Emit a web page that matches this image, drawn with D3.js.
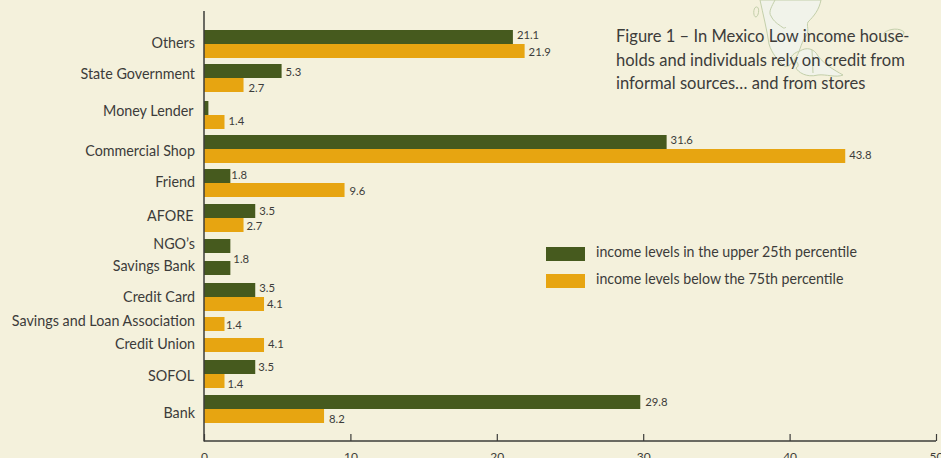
<!DOCTYPE html>
<html>
<head>
<meta charset="utf-8">
<script src="https://cdn.jsdelivr.net/npm/d3@7"></script>
<style>
  html, body { margin: 0; padding: 0; background: #f4f1dc; }
  svg { display: block; }
  text { font-family: "Lato", sans-serif; fill: #3c3c3a; }
</style>
</head>
<body>
<svg id="chart" width="941" height="458"></svg>
<script>
// values, top row first
var categories = ["Others", "State Government", "Money Lender", "Commercial Shop", "Friend", "AFORE",
  "NGO\u2019s", "Savings Bank", "Credit Card", "Savings and Loan Association", "Credit Union", "SOFOL", "Bank"];
var upper25 = [21.1, 5.3, 0.3, 31.6, 1.8, 3.5, 1.8, 1.8, 3.5, null, null, 3.5, 29.8];
var below75 = [21.9, 2.7, 1.4, 43.8, 9.6, 2.7, null, null, 4.1, 1.4, 4.1, 1.4, 8.2];
var xTicks = [0, 10, 20, 30, 40, 50];
var seriesNames = ["income levels in the upper 25th percentile", "income levels below the 75th percentile"];
var titleLines = ["Figure 1 \u2013 In Mexico Low income house-", "holds and individuals rely on credit from", "informal sources\u2026 and from stores"];

var GREEN = "#465a1e", ORANGE = "#e7a511", AXIS = "#3c3c3a";
var barH = 14;
var squeeze = 0.94; // Lato is wider than the font of the original

// the rows are not evenly spaced in the original, so the positions go in ordinal scales
var upperTop = d3.scaleOrdinal().domain(categories)
  .range([30, 64, 101, 135, 169, 204, 239, 261, 283, 0, 0, 360, 395]);
var belowTop = d3.scaleOrdinal().domain(categories)
  .range([44, 78, 115, 149, 183, 218, 0, 0, 297, 317, 338, 374, 409]);
var nameBase = d3.scaleOrdinal().domain(categories)
  .range([48, 79, 116, 156, 187, 221, 249, 271, 302, 326, 349, 381, 418]);
var upperLabelBase = d3.scaleOrdinal().domain(categories)
  .range([39, 76, 0, 144, 179, 215, 0, 263, 292, 0, 0, 371, 406]);
var belowLabelBase = d3.scaleOrdinal().domain(categories)
  .range([56, 92, 125, 159, 195, 230, 0, 0, 308, 329, 348, 388, 423]);
// gap between bar end and its label, it changes from row to row in the original
var upperLabelGap = d3.scaleOrdinal().domain(categories)
  .range([4, 4, 0, 4, 1, 4, 0, 3, 4, 0, 0, 3, 5]);
var belowLabelGap = d3.scaleOrdinal().domain(categories)
  .range([4, 5, 4, 4, 5, 3, 0, 0, 3, 1.5, 4, 3, 5]);
var nameRight = d3.scaleOrdinal().domain(categories)
  .range([195, 195, 193.5, 195, 195, 193.5, 195, 195, 195, 195, 195, 194, 195]);

var x = d3.scaleLinear().domain([0, 50]).range([204, 936]);

var svg = d3.select("#chart");

// draws a text narrowed to the width of the original font
function putText(parent, str, px, py, size, anchor) {
  return parent.append("text")
    .attr("transform", "translate(" + px + "," + py + ") scale(" + squeeze + ",1)")
    .attr("text-anchor", anchor || "start")
    .style("font-size", size + "px")
    .text(str);
}

// faint map behind the title
var map = svg.append("g").attr("fill", "#f1f3ea").attr("stroke", "#c3cfaa").attr("stroke-width", 1);
map.append("path").attr("d", "M760,0 C763,14 767,30 769,44 C772,54 778,60 783,65 C786,68 790,66 792,62 C788,56 796,52 800,51 C806,47 814,48 818,56 C824,64 834,70 843,75 C836,78 826,74 818,75 C806,78 798,72 796,68 C800,66 798,62 794,60 C800,54 800,44 806,36 C810,30 806,26 808,22 C814,16 819,10 821,0 Z");
map.append("path").attr("fill", "none").attr("d", "M775,0 C772,6 768,12 771,16 C774,22 778,24 782,27 C786,30 784,26 786,28");
map.append("path").attr("fill", "none").attr("d", "M756,7 C760,6 759,16 756,17 C753,17 753,8 756,7 Z");
map.append("path").attr("fill", "none").attr("d", "M884,33 C890,28 900,28 904,32 C904,38 896,36 892,42 C888,42 884,38 884,33 Z");
map.append("path").attr("fill", "none").attr("d", "M812,50 L813,73");

// bars
svg.append("g").selectAll("rect")
  .data(categories.filter(function(c, i) { return upper25[i] != null; }))
  .enter().append("rect")
  .attr("x", x(0))
  .attr("y", function(d) { return upperTop(d); })
  .attr("width", function(d) { return x(upper25[categories.indexOf(d)]) - x(0); })
  .attr("height", barH)
  .attr("fill", GREEN);

svg.append("g").selectAll("rect")
  .data(categories.filter(function(c, i) { return below75[i] != null; }))
  .enter().append("rect")
  .attr("x", x(0))
  .attr("y", function(d) { return belowTop(d); })
  .attr("width", function(d) { return x(below75[categories.indexOf(d)]) - x(0); })
  .attr("height", barH)
  .attr("fill", ORANGE);

// axes
var axis = d3.axisBottom(x).tickValues(xTicks).tickSize(-7).tickPadding(11).tickFormat(d3.format("d"));
var gx = svg.append("g").attr("transform", "translate(0,441)").call(axis);
gx.select(".domain").attr("stroke", AXIS).attr("stroke-width", 1.5).attr("d", "M" + x(0) + ",0H" + x(50));
gx.selectAll(".tick line").attr("stroke", AXIS).attr("stroke-width", 1.2);
gx.selectAll(".tick text").style("font-size", "12px").style("font-family", "Lato").attr("fill", AXIS);

svg.append("line")
  .attr("x1", x(0)).attr("x2", x(0)).attr("y1", 11).attr("y2", 441.5)
  .attr("stroke", AXIS).attr("stroke-width", 1.5);

// category names
var names = svg.append("g");
categories.forEach(function(c) {
  putText(names, c, nameRight(c), nameBase(c), 15.25, "end");
});

// value labels, no label on the thin Money Lender bar, NGO's and Savings Bank share one
var labels = svg.append("g");
categories.forEach(function(c, i) {
  if (upper25[i] != null && upperLabelBase(c) > 0) {
    putText(labels, d3.format(".1f")(upper25[i]), x(upper25[i]) + upperLabelGap(c), upperLabelBase(c), 12);
  }
  if (below75[i] != null) {
    putText(labels, d3.format(".1f")(below75[i]), x(below75[i]) + belowLabelGap(c), belowLabelBase(c), 12);
  }
});

// legend
var legend = svg.append("g");
seriesNames.forEach(function(s, i) {
  legend.append("rect")
    .attr("x", 546).attr("y", 247 + i * 27)
    .attr("width", 39).attr("height", 14)
    .attr("fill", i == 0 ? GREEN : ORANGE);
  putText(legend, s, 596, 256.5 + i * 27.5, 15.1);
});

// title
var title = svg.append("g");
titleLines.forEach(function(t, i) {
  putText(title, t, 616, 42 + i * 23.5, 17.6);
});
</script>
</body>
</html>
